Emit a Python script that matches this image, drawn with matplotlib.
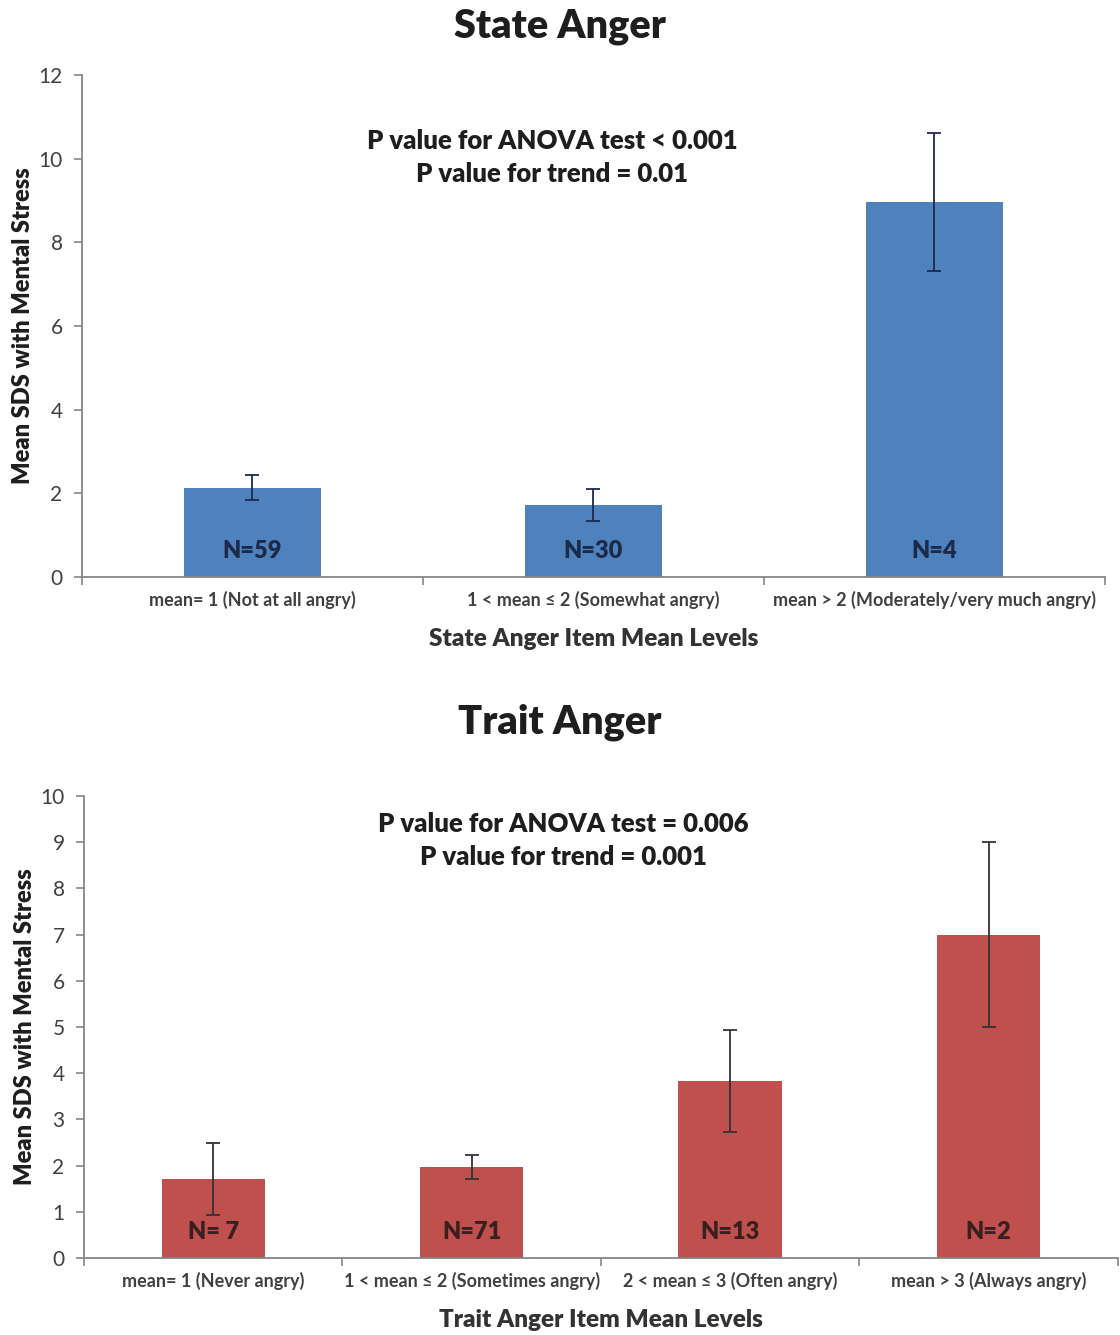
import matplotlib
matplotlib.use("Agg")
import matplotlib.pyplot as plt
import numpy as np

plt.rcParams['font.family'] = ['Lato', 'DejaVu Sans']

# State anger data
state_labels = ["mean= 1 (Not at all angry)",
                "1 < mean \u2264 2 (Somewhat angry)",
                "mean > 2 (Moderately/very much angry)"]
state_means = [2.13, 1.72, 8.96]
state_err = [0.30, 0.38, 1.65]
state_n = ["N=59", "N=30", "N=4"]

# Trait anger data
trait_labels = ["mean= 1 (Never angry)",
                "1 < mean \u2264 2 (Sometimes angry)",
                "2 < mean \u2264 3 (Often angry)",
                "mean > 3 (Always angry)"]
trait_means = [1.71, 1.97, 3.83, 7.0]
trait_err = [0.78, 0.27, 1.11, 2.0]
trait_n = ["N= 7", "N=71", "N=13", "N=2"]

fig = plt.figure(figsize=(11.2, 13.35), dpi=100)
ax1 = fig.add_axes([0.0732, 0.5678, 0.9134, 0.376])
ax2 = fig.add_axes([0.075, 0.0577, 0.923, 0.346])

axis_gray = '#868686'
tick_col = '#404040'
text_col = '#1E1E1E'
BOLD = 800


def draw_panel(ax, labels, means, errs, ns, color, ecol, ncol, ymax, ystep, xlabel, n_y):
    x = np.arange(len(means))
    ax.bar(x, means, width=0.4, color=color, zorder=2)
    ax.errorbar(x, means, yerr=errs, fmt='none', ecolor=ecol, elinewidth=1.3,
                capsize=5, capthick=1.3, zorder=3)
    for xi, n in zip(x, ns):
        ax.text(xi, n_y, n, ha='center', va='center', fontsize=17,
                fontweight=BOLD, color=ncol, zorder=4)
    ax.set_xlim(-0.5, len(means) - 0.5)
    ax.set_ylim(0, ymax)
    ax.set_yticks(np.arange(0, ymax + 0.1, ystep))
    ax.set_xticks(x)
    ax.set_xticklabels(labels, fontsize=13, fontweight=700, color=tick_col)
    ax.set_xticks(np.arange(-0.5, len(means)), minor=True)
    ax.tick_params(axis='x', which='major', length=0, pad=10)
    ax.tick_params(axis='x', which='minor', length=6, color=axis_gray, width=1.2)
    ax.tick_params(axis='y', length=6, color=axis_gray, width=1.2, labelsize=15,
                   labelcolor=tick_col, pad=8)
    for s in ['top', 'right']:
        ax.spines[s].set_visible(False)
    for s in ['left', 'bottom']:
        ax.spines[s].set_color(axis_gray)
        ax.spines[s].set_linewidth(1.3)
    ax.set_ylabel("Mean SDS with Mental Stress", fontsize=17, fontweight=BOLD,
                  color=text_col, labelpad=3)
    ax.set_xlabel(xlabel, fontsize=17.5, fontweight=BOLD, color='#333333', labelpad=14)


draw_panel(ax1, state_labels, state_means, state_err, state_n,
           '#4F81BD', '#1C2A4A', '#1C2A4A', 12, 2,
           "State Anger Item Mean Levels", 0.62)
draw_panel(ax2, trait_labels, trait_means, trait_err, trait_n,
           '#C0504D', '#333333', '#3A1F1F', 10, 1,
           "Trait Anger Item Mean Levels", 0.57)

fig.text(0.5, 0.9798, "State Anger", ha='center', va='center', fontsize=28.5,
         fontweight=BOLD, color=text_col)
fig.text(0.5, 0.4592, "Trait Anger", ha='center', va='center', fontsize=28.5,
         fontweight=BOLD, color=text_col)
fig.text(0.493, 0.8817, "P value for ANOVA test < 0.001\nP value for trend = 0.01",
         ha='center', va='center', fontsize=18.5, fontweight=BOLD, color=text_col,
         linespacing=1.45)
fig.text(0.5027, 0.3704, "P value for ANOVA test = 0.006\nP value for trend = 0.001",
         ha='center', va='center', fontsize=18.5, fontweight=BOLD, color=text_col,
         linespacing=1.45)

fig.savefig("out.png", dpi=100)
